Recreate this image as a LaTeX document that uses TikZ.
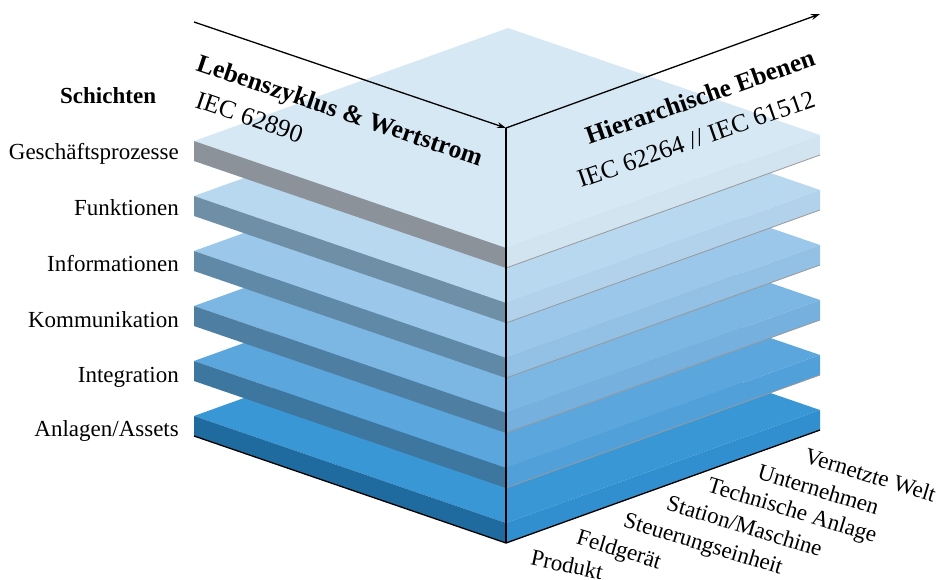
\documentclass[tikz,border=0pt]{standalone}
\usepackage{fontspec}
\setmainfont{Liberation Serif}
\usetikzlibrary{arrows.meta}
\definecolor{topc0}{HTML}{D7E8F5}
\definecolor{leftc0}{HTML}{8C9299}
\definecolor{rightc0}{HTML}{D2E4EF}
\definecolor{topc1}{HTML}{B8D8F0}
\definecolor{leftc1}{HTML}{6F8FA6}
\definecolor{rightc1}{HTML}{B2D2EB}
\definecolor{topc2}{HTML}{9AC7EA}
\definecolor{leftc2}{HTML}{5F89A6}
\definecolor{rightc2}{HTML}{93C1E5}
\definecolor{topc3}{HTML}{7CB6E3}
\definecolor{leftc3}{HTML}{4E7FA2}
\definecolor{rightc3}{HTML}{75B0DE}
\definecolor{topc4}{HTML}{5AA6DD}
\definecolor{leftc4}{HTML}{3D77A0}
\definecolor{rightc4}{HTML}{52A0D9}
\definecolor{topc5}{HTML}{3A97D5}
\definecolor{leftc5}{HTML}{1F6B9F}
\definecolor{rightc5}{HTML}{318FCF}
\begin{document}
\begin{tikzpicture}[x=1pt,y=-1pt,
  lab/.style={font=\fontsize{23}{27}\selectfont, inner sep=0pt},
  labb/.style={font=\fontsize{23}{27}\selectfont\bfseries, inner sep=0pt},
  head/.style={font=\fontsize{25.5}{30}\selectfont\bfseries, inner sep=0pt},
  sub/.style={font=\fontsize{25.5}{30}\selectfont, inner sep=0pt},
  axisarrow/.style={line width=1.3pt, -{Stealth[length=9pt,width=6pt]}},
  edgeline/.style={line width=1.3pt},
  botlab/.style={lab, rotate=-17, anchor=north west}]
\useasboundingbox (0,0) rectangle (941,580);
% slabs, bottom first
\foreach \i in {5,4,3,2,1,0}{
  \pgfmathsetmacro\fy{248+55*\i}
  \fill[topc\i] (194,{\fy-107}) -- (508,{\fy-220}) -- (820,{\fy-113}) -- (506,\fy) -- cycle;
  \fill[leftc\i] (194,{\fy-107}) -- (506,\fy) -- (506,{\fy+20}) -- (194,{\fy-87}) -- cycle;
  \fill[rightc\i] (506,\fy) -- (820,{\fy-113}) -- (820,{\fy-93}) -- (506,{\fy+20}) -- cycle;
  \draw[black!40, line width=0.8pt] (506,{\fy+20}) -- (820,{\fy-93});
}
% edges and axes
\coordinate (o) at (506,128);
\coordinate (a1) at (194,22);
\coordinate (a2) at (820,14);
\coordinate (fb) at (506,543);
\coordinate (lb) at (194,436);
\coordinate (rb) at (820,430);
\draw[edgeline] (lb) -- (fb) -- (rb);
\draw[edgeline] (o) -- (fb);
\draw[axisarrow] (a1) -- (o);
\draw[axisarrow] (o) -- (a2);
% axis titles
\node[head, rotate=-18.7, anchor=base west] (lz) at (195,70) {Lebenszyklus \& Wertstrom};
\node[sub, rotate=-19, anchor=base west] (iec1) at (194,107) {IEC 62890};
\node[head, rotate=19.4, anchor=base west] (he) at (589,145) {Hierarchische Ebenen};
\node[sub, rotate=19.2, anchor=base west] (iec2) at (581,188) {IEC 62264 // IEC 61512};
% layer labels
\node[labb, anchor=base west] (sch) at (60,104) {Schichten};
\node[lab, anchor=base east] (s0) at (179,160) {Geschäftsprozesse};
\node[lab, anchor=base east] (s1) at (179,215) {Funktionen};
\node[lab, anchor=base east] (s2) at (179,271) {Informationen};
\node[lab, anchor=base east] (s3) at (179,327) {Kommunikation};
\node[lab, anchor=base east] (s4) at (179,382) {Integration};
\node[lab, anchor=base east] (s5) at (179,436) {Anlagen/Assets};
% hierarchy labels
\node[botlab, rotate=5] (h0) at (533,549) {Produkt};
\node[botlab] (h1) at (580,528) {Feldgerät};
\node[botlab] (h2) at (627,511) {Steuerungseinheit};
\node[botlab] (h3) at (670,494) {Station/Maschine};
\node[botlab] (h4) at (711,476) {Technische Anlage};
\node[botlab] (h5) at (761,463) {Unternehmen};
\node[botlab] (h6) at (808,447) {Vernetzte Welt};
\end{tikzpicture}
\end{document}
